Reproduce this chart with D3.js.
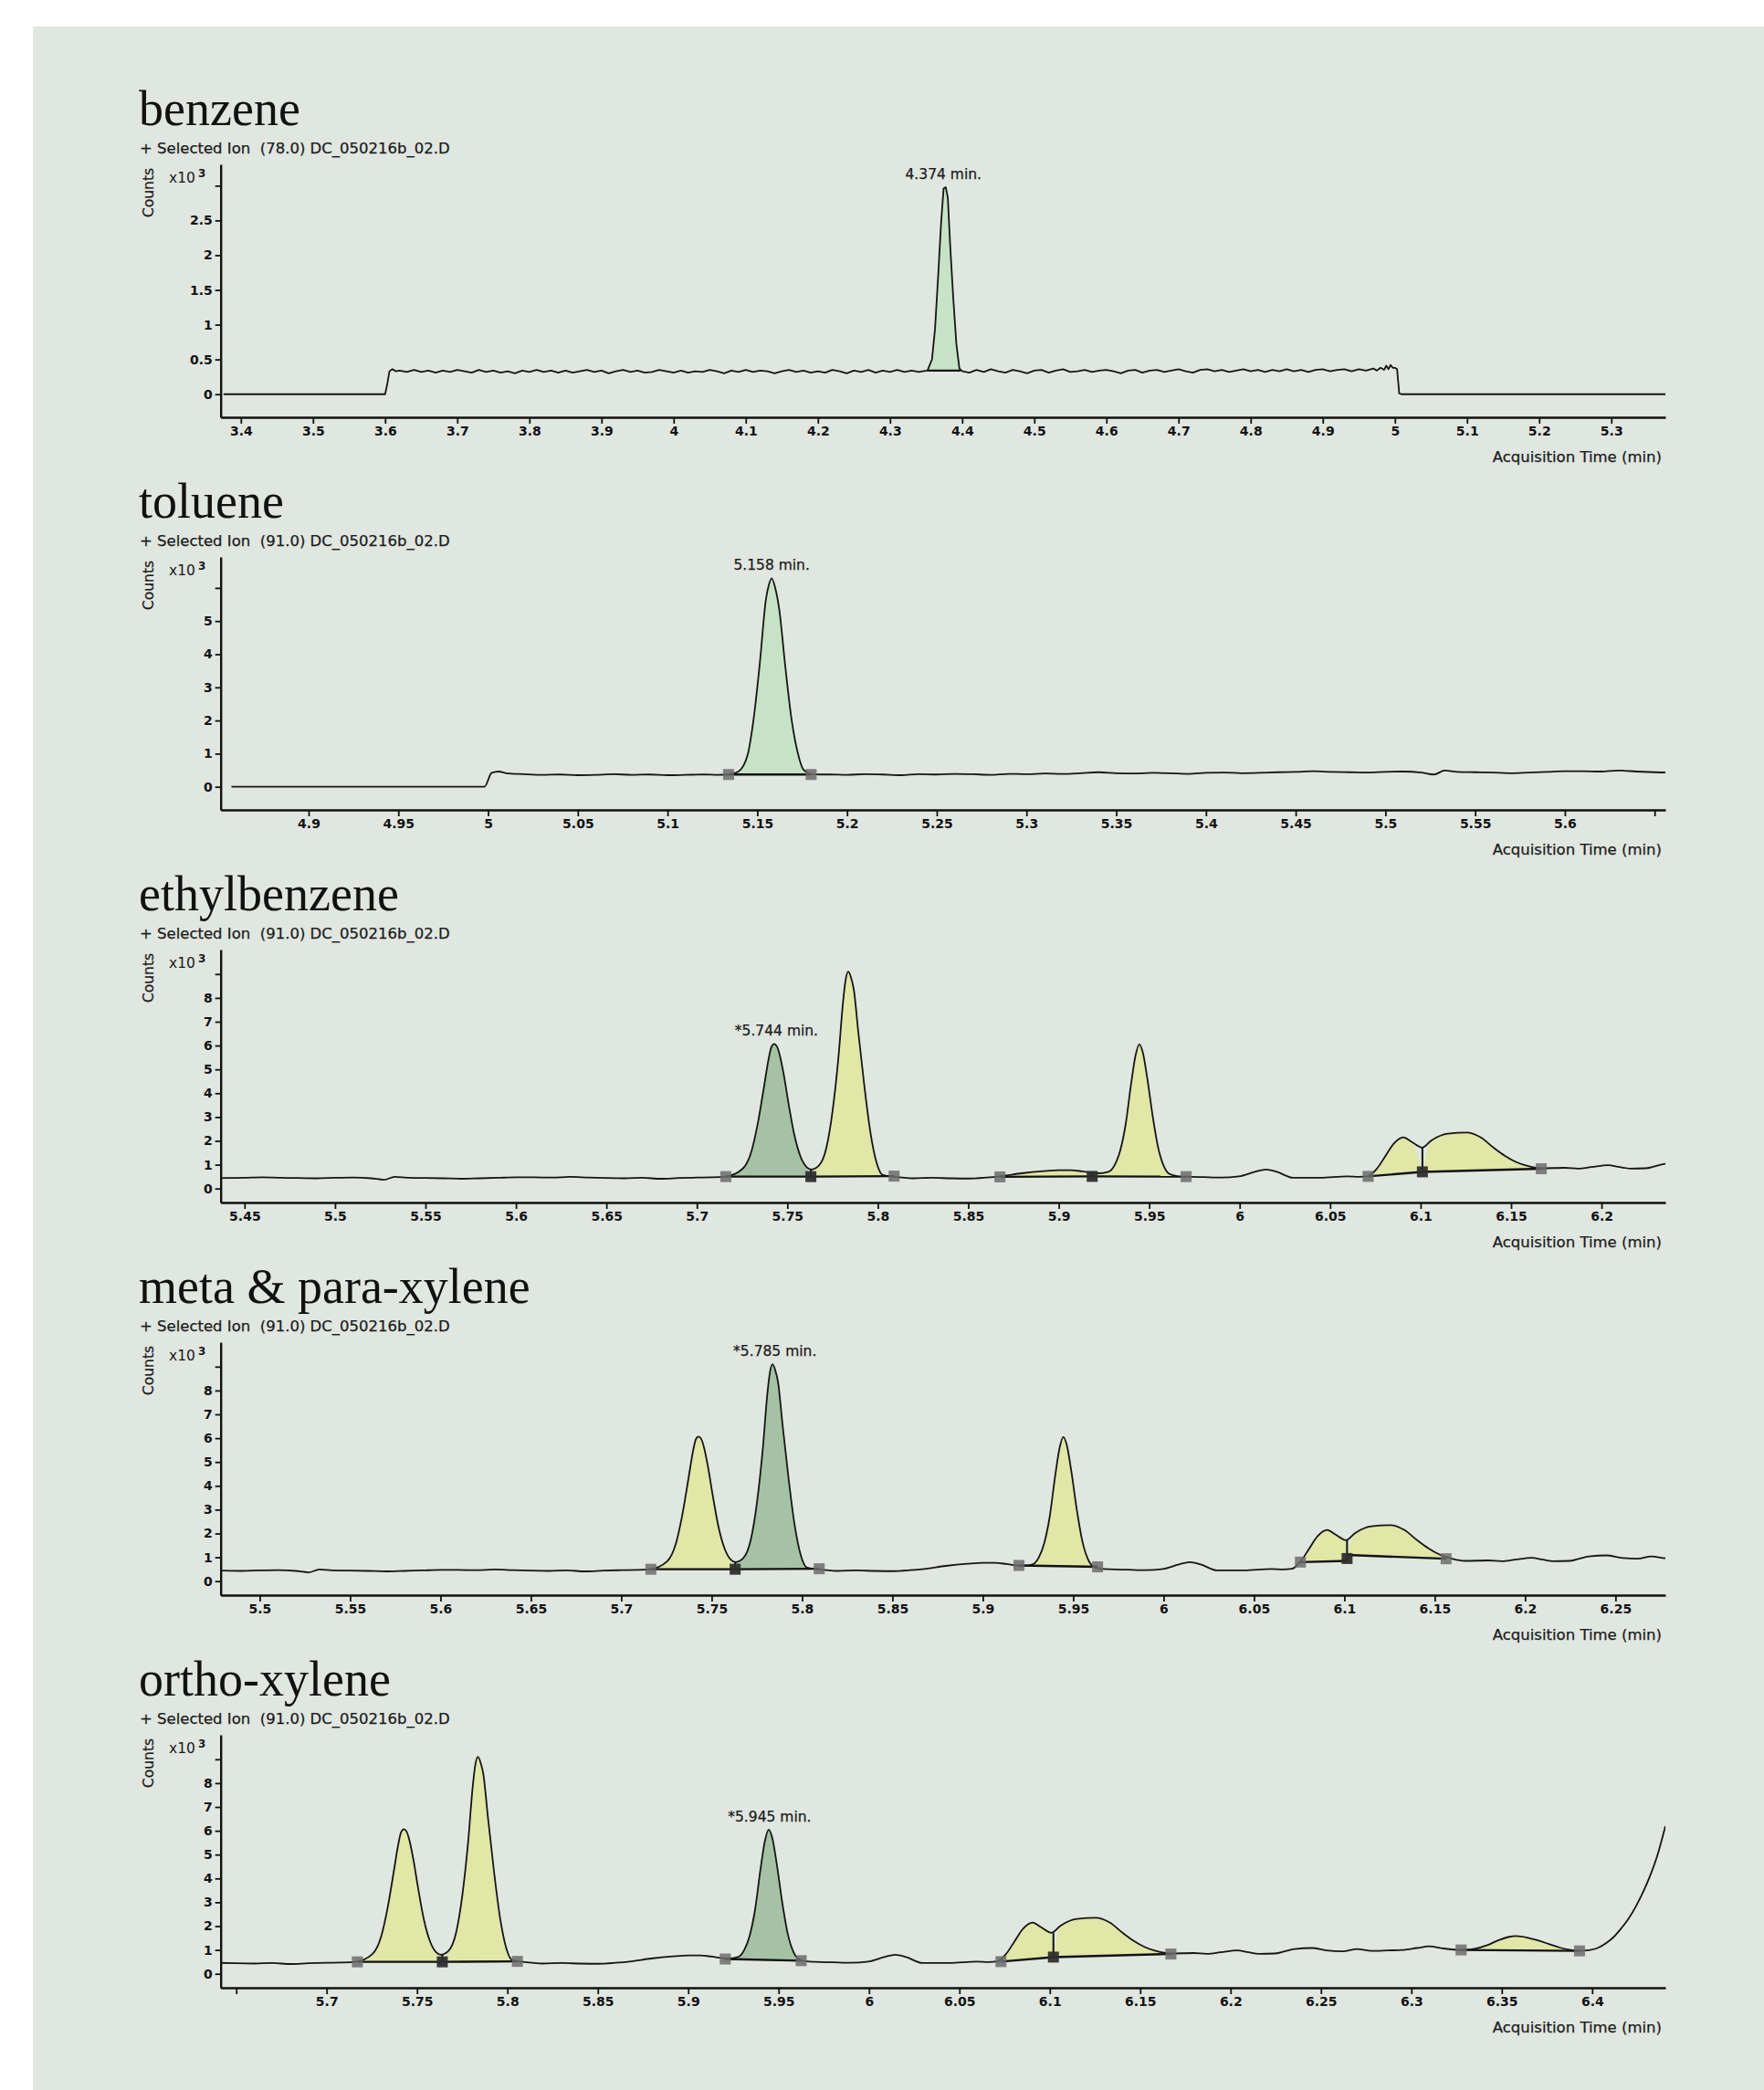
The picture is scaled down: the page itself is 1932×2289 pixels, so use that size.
<!DOCTYPE html>
<html>
<head>
<meta charset="utf-8">
<script src="https://cdn.jsdelivr.net/npm/d3@7"></script>
<style>
  body { margin: 0; background: #fff; }
  svg { display: block; }
  text { white-space: pre; }
</style>
</head>
<body>
<div id="chart"></div>
<script>
// ---- data (time in min, counts in x10^3) ----

const compoundNames = ["benzene", "toluene", "ethylbenzene", "meta & para-xylene", "ortho-xylene"];
const ionLabels = [
  "+ Selected Ion  (78.0) DC_050216b_02.D",
  "+ Selected Ion  (91.0) DC_050216b_02.D",
  "+ Selected Ion  (91.0) DC_050216b_02.D",
  "+ Selected Ion  (91.0) DC_050216b_02.D",
  "+ Selected Ion  (91.0) DC_050216b_02.D"
];

// ion 78 trace (benzene window)
const ion78 = [
  [3.376,0],[3.600,0],[3.603,0.15],[3.606,0.33],[3.610,0.36],[3.615,0.33],
  [3.62,0.34],[3.63,0.32],[3.64,0.35],[3.65,0.32],[3.66,0.34],[3.67,0.31],[3.68,0.34],[3.69,0.32],
  [3.70,0.35],[3.71,0.33],[3.72,0.31],[3.73,0.35],[3.74,0.32],[3.75,0.34],[3.76,0.31],[3.77,0.33],
  [3.78,0.30],[3.79,0.34],[3.80,0.32],[3.81,0.35],[3.82,0.32],[3.83,0.34],[3.84,0.31],[3.85,0.34],
  [3.86,0.31],[3.87,0.33],[3.88,0.35],[3.89,0.32],[3.90,0.34],[3.91,0.30],[3.92,0.33],[3.93,0.35],
  [3.94,0.32],[3.95,0.34],[3.96,0.31],[3.97,0.32],[3.98,0.35],[3.99,0.33],[4.00,0.31],[4.01,0.34],
  [4.02,0.31],[4.03,0.33],[4.04,0.32],[4.05,0.35],[4.06,0.33],[4.07,0.30],[4.08,0.34],[4.09,0.32],
  [4.10,0.35],[4.11,0.32],[4.12,0.34],[4.13,0.33],[4.14,0.30],[4.15,0.33],[4.16,0.35],[4.17,0.32],
  [4.18,0.34],[4.19,0.31],[4.20,0.33],[4.21,0.31],[4.22,0.35],[4.23,0.33],[4.24,0.30],[4.25,0.34],
  [4.26,0.32],[4.27,0.35],[4.28,0.31],[4.29,0.34],[4.30,0.32],[4.31,0.35],[4.32,0.32],[4.33,0.34],
  [4.34,0.32],[4.345,0.33],
  [4.3519,0.34],[4.3582,0.50],[4.3624,0.94],[4.3667,1.69],[4.3709,2.48],[4.3743,2.96],[4.3772,2.98],
  [4.3801,2.83],[4.3835,2.12],[4.3877,1.38],[4.392,0.72],[4.3962,0.37],[4.4004,0.33],
  [4.41,0.31],[4.42,0.35],[4.43,0.32],[4.44,0.36],[4.45,0.33],[4.46,0.31],[4.47,0.35],[4.48,0.33],
  [4.49,0.30],[4.50,0.34],[4.51,0.35],[4.52,0.31],[4.53,0.34],[4.54,0.36],[4.55,0.32],[4.56,0.33],
  [4.57,0.35],[4.58,0.32],[4.59,0.34],[4.60,0.35],[4.61,0.33],[4.62,0.30],[4.63,0.34],[4.64,0.35],
  [4.65,0.31],[4.66,0.34],[4.67,0.35],[4.68,0.32],[4.69,0.34],[4.70,0.36],[4.71,0.33],[4.72,0.31],
  [4.73,0.35],[4.74,0.36],[4.75,0.33],[4.76,0.35],[4.77,0.32],[4.78,0.34],[4.79,0.36],[4.80,0.33],
  [4.81,0.35],[4.82,0.32],[4.83,0.35],[4.84,0.33],[4.85,0.36],[4.86,0.33],[4.87,0.35],[4.88,0.32],
  [4.89,0.35],[4.90,0.36],[4.91,0.33],[4.92,0.35],[4.93,0.36],[4.94,0.33],[4.95,0.36],[4.96,0.34],
  [4.97,0.37],[4.975,0.34],[4.98,0.38],[4.985,0.35],[4.988,0.41],[4.991,0.36],[4.994,0.42],[4.997,0.38],
  [5.000,0.38],[5.003,0.36],[5.006,0.01],[5.009,0],[5.375,0]
];

// ion 91 trace (toluene, ethylbenzene and xylene windows)
const ion91 = [
  [4.857,0],[4.998,0],[5.002,0.42],[5.006,0.46],[5.010,0.41],[5.020,0.38],[5.030,0.36],[5.040,0.37],
  [5.050,0.35],[5.060,0.36],[5.070,0.38],[5.080,0.36],[5.090,0.37],[5.100,0.35],[5.110,0.36],[5.120,0.37],
  [5.128,0.36],
  [5.134,0.37],[5.1395,0.46],[5.1446,0.96],[5.148,2.07],[5.1514,3.72],[5.1548,5.65],[5.1565,6.10],
  [5.158,6.29],[5.160,6.00],[5.1622,5.37],[5.1656,3.63],[5.169,2.07],[5.1724,1.06],[5.1758,0.51],
  [5.180,0.39],[5.185,0.37],
  [5.190,0.37],[5.200,0.36],[5.210,0.38],[5.220,0.37],[5.230,0.35],[5.240,0.38],[5.250,0.37],[5.260,0.39],
  [5.270,0.38],[5.280,0.36],[5.290,0.39],[5.300,0.38],[5.310,0.40],[5.320,0.39],[5.330,0.41],[5.340,0.44],
  [5.350,0.41],[5.360,0.40],[5.370,0.42],[5.380,0.41],[5.390,0.39],[5.400,0.42],[5.410,0.43],[5.420,0.41],
  [5.430,0.42],[5.440,0.44],[5.450,0.45],[5.460,0.47],[5.470,0.45],[5.480,0.44],[5.490,0.43],[5.500,0.45],
  [5.510,0.46],[5.520,0.43],[5.527,0.37],[5.533,0.49],[5.540,0.45],[5.550,0.44],[5.560,0.43],[5.570,0.41],
  [5.580,0.43],[5.590,0.45],[5.600,0.47],[5.610,0.47],[5.620,0.46],[5.630,0.49],[5.640,0.46],[5.650,0.44],
  [5.660,0.43],[5.670,0.45],[5.680,0.41],[5.690,0.44],[5.700,0.46],[5.708,0.47],
  [5.7157,0.50],[5.7253,0.83],[5.7303,1.60],[5.7337,2.75],[5.7371,4.27],[5.7396,5.42],[5.7412,5.94],
  [5.7427,6.07],[5.7442,5.97],[5.7455,5.69],[5.748,4.79],[5.7505,3.64],[5.7539,2.24],[5.7573,1.34],
  [5.7606,0.90],[5.7631,0.80],[5.7674,0.96],[5.7716,1.72],[5.775,3.26],[5.7783,5.56],[5.7808,7.85],
  [5.7822,8.75],[5.7837,9.10],[5.7852,8.85],[5.7867,8.37],[5.7892,6.58],[5.7926,4.28],[5.7959,2.36],
  [5.7993,1.09],[5.8027,0.57],[5.8086,0.50],
  [5.8195,0.43],[5.830,0.45],[5.840,0.43],[5.850,0.42],[5.860,0.46],[5.8675,0.51],[5.8795,0.64],
  [5.8915,0.73],[5.900,0.77],[5.9065,0.77],[5.913,0.72],[5.9185,0.66],[5.922,0.64],
  [5.9275,0.70],[5.931,1.00],[5.934,1.60],[5.937,2.70],[5.940,4.40],[5.9425,5.60],[5.9445,6.05],
  [5.9465,5.70],[5.949,4.60],[5.952,3.00],[5.955,1.70],[5.958,0.95],[5.961,0.62],[5.9655,0.52],[5.9704,0.50],
  [5.980,0.48],[5.990,0.46],[5.9995,0.51],[6.0085,0.70],[6.0145,0.80],[6.0205,0.70],[6.0296,0.45],
  [6.0445,0.45],[6.0595,0.51],[6.066,0.49],
  [6.071,0.52],[6.076,0.85],[6.0805,1.36],[6.0851,1.88],[6.0905,2.15],[6.095,1.96],[6.101,1.72],
  [6.106,2.02],[6.115,2.30],[6.1255,2.35],[6.1331,2.15],[6.1406,1.70],[6.1465,1.38],[6.1526,1.12],
  [6.160,0.93],[6.1667,0.85],
  [6.1795,0.87],[6.187,0.84],[6.1944,0.90],[6.2036,0.98],[6.210,0.90],[6.2156,0.84],[6.2245,0.85],
  [6.2353,1.04],[6.245,1.08],[6.253,0.98],[6.262,0.94],[6.270,1.04],[6.278,0.96],[6.287,0.98],
  [6.295,1.00],[6.303,1.08],[6.310,1.15],[6.317,1.07],[6.3275,1.00],[6.335,1.05],[6.342,1.20],
  [6.348,1.40],[6.354,1.55],[6.358,1.58],[6.364,1.52],[6.370,1.40],[6.376,1.25],[6.382,1.10],
  [6.388,1.00],[6.393,0.96],[6.398,0.99],[6.403,1.08],[6.408,1.30],[6.412,1.55],[6.416,1.90],
  [6.420,2.30],[6.424,2.80],[6.428,3.40],[6.432,4.10],[6.436,4.95],[6.4405,6.20]
];

const traces = [ion78, ion91, ion91, ion91, ion91];

// axis windows
const xDomains = [[3.372, 5.375], [4.851, 5.656], [5.4368, 6.2353], [5.4784, 6.2776], [5.6414, 6.4405]];
const yDomains = [[-0.332, 3.307], [-0.697, 6.934], [-0.586, 10.027], [-0.586, 10.027], [-0.586, 10.027]];

const xTicks = [
  [3.4,3.5,3.6,3.7,3.8,3.9,4,4.1,4.2,4.3,4.4,4.5,4.6,4.7,4.8,4.9,5,5.1,5.2,5.3],
  [4.9,4.95,5,5.05,5.1,5.15,5.2,5.25,5.3,5.35,5.4,5.45,5.5,5.55,5.6,5.65],
  [5.45,5.5,5.55,5.6,5.65,5.7,5.75,5.8,5.85,5.9,5.95,6,6.05,6.1,6.15,6.2],
  [5.5,5.55,5.6,5.65,5.7,5.75,5.8,5.85,5.9,5.95,6,6.05,6.1,6.15,6.2,6.25],
  [5.65,5.7,5.75,5.8,5.85,5.9,5.95,6,6.05,6.1,6.15,6.2,6.25,6.3,6.35,6.4]
];
const xTickLabels = [
  ["3.4","3.5","3.6","3.7","3.8","3.9","4","4.1","4.2","4.3","4.4","4.5","4.6","4.7","4.8","4.9","5","5.1","5.2","5.3"],
  ["4.9","4.95","5","5.05","5.1","5.15","5.2","5.25","5.3","5.35","5.4","5.45","5.5","5.55","5.6",""],
  ["5.45","5.5","5.55","5.6","5.65","5.7","5.75","5.8","5.85","5.9","5.95","6","6.05","6.1","6.15","6.2"],
  ["5.5","5.55","5.6","5.65","5.7","5.75","5.8","5.85","5.9","5.95","6","6.05","6.1","6.15","6.2","6.25"],
  ["","5.7","5.75","5.8","5.85","5.9","5.95","6","6.05","6.1","6.15","6.2","6.25","6.3","6.35","6.4"]
];
const yTicks = [
  [0,0.5,1,1.5,2,2.5,3],
  [0,1,2,3,4,5,6],
  [0,1,2,3,4,5,6,7,8,9],
  [0,1,2,3,4,5,6,7,8,9],
  [0,1,2,3,4,5,6,7,8,9]
];
const yTickLabels = [
  ["0","0.5","1","1.5","2","2.5",""],
  ["0","1","2","3","4","5",""],
  ["0","1","2","3","4","5","6","7","8",""],
  ["0","1","2","3","4","5","6","7","8",""],
  ["0","1","2","3","4","5","6","7","8",""]
];

// integrated peaks: [start, end, baseline at start, baseline at end, fill]
const peaks = [
  [[4.352,4.398,0.34,0.34,"light"]],
  [[5.134,5.180,0.37,0.37,"light"]],
  [[5.716,5.763,0.50,0.50,"target"],[5.763,5.809,0.50,0.52,"other"],[5.8675,5.9185,0.49,0.51,"other"],
   [5.9185,5.9704,0.51,0.50,"other"],[6.071,6.101,0.51,0.70,"other"],[6.101,6.1667,0.70,0.83,"other"]],
  [[5.7164,5.763,0.50,0.50,"other"],[5.763,5.8095,0.50,0.52,"target"],[5.920,5.9635,0.66,0.60,"other"],
   [6.0757,6.1015,0.80,0.85,"other"],[6.1015,6.1563,1.10,0.94,"other"]],
  [[5.717,5.764,0.50,0.50,"other"],[5.764,5.8055,0.50,0.52,"other"],[5.9205,5.9625,0.62,0.55,"target"],
   [6.073,6.102,0.51,0.70,"other"],[6.102,6.167,0.70,0.83,"other"],[6.3275,6.393,1.00,0.96,"other"]]
];

// integration markers: [time, counts, shared boundary?]
const markers = [
  [],
  [[5.134,0.37,0],[5.180,0.37,0]],
  [[5.716,0.50,0],[5.763,0.50,1],[5.809,0.52,0],[5.8675,0.49,0],[5.9185,0.51,1],[5.9704,0.50,0],
   [6.071,0.51,0],[6.101,0.70,1],[6.1667,0.83,0]],
  [[5.7164,0.50,0],[5.763,0.50,1],[5.8095,0.52,0],[5.920,0.66,0],[5.9635,0.60,0],[6.0757,0.80,0],
   [6.1015,0.95,1],[6.1563,0.94,0]],
  [[5.717,0.50,0],[5.764,0.50,1],[5.8055,0.52,0],[5.9205,0.62,0],[5.9625,0.55,0],[6.073,0.51,0],
   [6.102,0.70,1],[6.167,0.83,0],[6.3275,1.00,0],[6.393,0.96,0]]
];

// drop lines between split peaks: [time, from, to]
const drops = [
  [], [],
  [[5.763,0.50,0.80],[5.9185,0.51,0.66],[6.101,0.70,1.72]],
  [[5.763,0.50,0.80],[6.1015,0.85,1.72]],
  [[5.764,0.50,0.80],[6.102,0.70,1.72]]
];

// retention time labels: [time, apex counts, text]
const rtLabels = [
  [4.374, 2.98, "4.374 min."],
  [5.158, 6.29, "5.158 min."],
  [5.744, 6.07, "*5.744 min."],
  [5.785, 9.10, "*5.785 min."],
  [5.945, 6.05, "*5.945 min."]
];

// ---- drawing ----
const W = 1932, H = 2289;
const AX_L = 241.7, AX_R = 1824, AX_H = 277;
const FIRST_TOP = 180, STEP = 430;
const fills = { light: "#c6e4c5", target: "#a5c3a4", other: "#e0e7a7" };
const sans = "'DejaVu Sans', Verdana, sans-serif";

const svg = d3.select("#chart").append("svg")
  .attr("width", W).attr("height", H);

svg.append("rect")
  .attr("x", 36).attr("y", 29)
  .attr("width", W - 36).attr("height", H - 29)
  .attr("fill", "#e0e6e0");

compoundNames.forEach(function(name, i) {
  var top = FIRST_TOP + i * STEP;
  var g = svg.append("g");

  var x = d3.scaleLinear().domain(xDomains[i]).range([AX_L, AX_R]);
  var y = d3.scaleLinear().domain(yDomains[i]).range([top + AX_H, top]);

  // titles
  g.append("text")
    .attr("x", 152).attr("y", top - 43)
    .attr("font-family", "'Liberation Serif', 'Times New Roman', serif")
    .attr("font-size", 54).attr("fill", "#111")
    .text(name);

  g.append("text")
    .attr("x", 153).attr("y", top - 18)
    .attr("dominant-baseline", "central")
    .attr("font-family", sans).attr("font-size", 16.5).attr("fill", "#1a1a1a")
    .attr("stroke", "#1a1a1a").attr("stroke-width", 0.25)
    .text(ionLabels[i]);

  // axis labels
  g.append("text")
    .attr("transform", "translate(163," + (top + 31) + ") rotate(-90)")
    .attr("text-anchor", "middle").attr("dominant-baseline", "central")
    .attr("font-family", sans).attr("font-size", 15.5).attr("fill", "#1a1a1a")
    .attr("stroke", "#1a1a1a").attr("stroke-width", 0.25)
    .text("Counts");

  var exp = g.append("text")
    .attr("x", 185).attr("y", top + 15)
    .attr("dominant-baseline", "central")
    .attr("font-family", sans).attr("font-size", 15.5).attr("fill", "#1a1a1a")
    .text("x10");
  exp.append("tspan").attr("dx", 3).attr("dy", -5).attr("font-size", 12)
    .attr("font-weight", "bold").text("3");

  g.append("text")
    .attr("x", AX_R - 4).attr("y", top + AX_H + 43)
    .attr("text-anchor", "end").attr("dominant-baseline", "central")
    .attr("font-family", sans).attr("font-size", 16.5).attr("fill", "#1a1a1a")
    .attr("stroke", "#1a1a1a").attr("stroke-width", 0.25)
    .text("Acquisition Time (min)");

  // axes
  var xLab = xTickLabels[i], yLab = yTickLabels[i];
  var gx = g.append("g")
    .attr("transform", "translate(0," + (top + AX_H) + ")")
    .call(d3.axisBottom(x).tickValues(xTicks[i])
      .tickFormat(function(d, k) { return xLab[k]; })
      .tickSize(7).tickSizeOuter(0));
  var gy = g.append("g")
    .attr("transform", "translate(" + AX_L + ",0)")
    .call(d3.axisLeft(y).tickValues(yTicks[i])
      .tickFormat(function(d, k) { return yLab[k]; })
      .tickSize(6).tickSizeOuter(0));
  [gx, gy].forEach(function(ax) {
    ax.select(".domain").attr("stroke", "#111").attr("stroke-width", 2.4);
    ax.selectAll(".tick line").attr("stroke", "#111").attr("stroke-width", 1.8);
    ax.selectAll(".tick text")
      .attr("font-family", sans).attr("font-size", 14)
      .attr("font-weight", "bold").attr("fill", "#111");
  });

  // plot area clip
  var clipId = "clip" + i;
  svg.append("clipPath").attr("id", clipId)
    .append("rect")
    .attr("x", AX_L).attr("y", top)
    .attr("width", AX_R - AX_L).attr("height", AX_H);
  var plot = g.append("g").attr("clip-path", "url(#" + clipId + ")");

  var trace = traces[i];
  // the noisy benzene trace is drawn point to point, the others smoothed
  var curve = i === 0 ? d3.curveLinear : d3.curveMonotoneX;

  // peak fills
  peaks[i].forEach(function(p) {
    var t0 = p[0], t1 = p[1];
    var base = d3.scaleLinear().domain([t0, t1]).range([p[2], p[3]]);
    var pts = [[t0, p[2]]]
      .concat(trace.filter(function(d) { return d[0] > t0 && d[0] < t1; }))
      .concat([[t1, p[3]]]);
    plot.append("path")
      .datum(pts)
      .attr("fill", fills[p[4]])
      .attr("d", d3.area()
        .curve(curve)
        .x(function(d) { return x(d[0]); })
        .y0(function(d) { return y(base(d[0])); })
        .y1(function(d) { return y(Math.max(d[1], base(d[0]))); }));
  });

  // trace
  plot.append("path")
    .datum(trace)
    .attr("fill", "none")
    .attr("stroke", "#151515")
    .attr("stroke-width", 1.8)
    .attr("stroke-linejoin", "round")
    .attr("d", d3.line()
      .curve(curve)
      .x(function(d) { return x(d[0]); })
      .y(function(d) { return y(d[1]); }));

  // integration baselines and drop lines
  plot.selectAll(".bl")
    .data(peaks[i]).enter()
    .append("line")
    .attr("x1", function(p) { return x(p[0]); })
    .attr("x2", function(p) { return x(p[1]); })
    .attr("y1", function(p) { return y(p[2]); })
    .attr("y2", function(p) { return y(p[3]); })
    .attr("stroke", "#111").attr("stroke-width", 2.4);

  plot.selectAll(".drop")
    .data(drops[i]).enter()
    .append("line")
    .attr("x1", function(d) { return x(d[0]); })
    .attr("x2", function(d) { return x(d[0]); })
    .attr("y1", function(d) { return y(d[1]); })
    .attr("y2", function(d) { return y(d[2]); })
    .attr("stroke", "#111").attr("stroke-width", 2);

  // markers
  plot.selectAll(".mk")
    .data(markers[i]).enter()
    .append("rect")
    .attr("x", function(d) { return x(d[0]) - 6; })
    .attr("y", function(d) { return y(d[1]) - 6; })
    .attr("width", 12).attr("height", 12)
    .attr("fill", function(d) { return d[2] ? "#2e2e2e" : "#6b6b6b"; })
    .attr("fill-opacity", function(d) { return d[2] ? 0.95 : 0.85; });

  // retention time label
  var lab = rtLabels[i];
  g.append("text")
    .attr("x", x(lab[0])).attr("y", y(lab[1]) - 14)
    .attr("text-anchor", "middle").attr("dominant-baseline", "central")
    .attr("font-family", sans).attr("font-size", 15.5).attr("fill", "#1a1a1a")
    .attr("stroke", "#1a1a1a").attr("stroke-width", 0.25)
    .text(lab[2]);
});
</script>
</body>
</html>
